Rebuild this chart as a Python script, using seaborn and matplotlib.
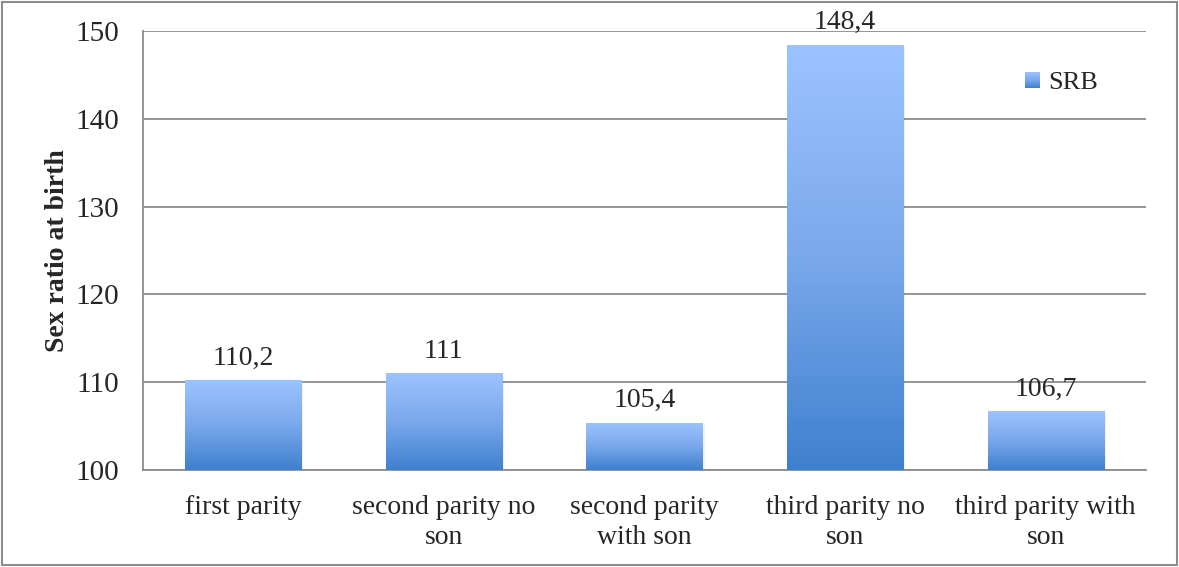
import numpy as np
import pandas as pd
import matplotlib
matplotlib.use("Agg")
import matplotlib.pyplot as plt
from matplotlib.colors import LinearSegmentedColormap
from matplotlib.patches import Patch, Rectangle
from matplotlib.legend_handler import HandlerBase
from matplotlib.image import BboxImage
from matplotlib.transforms import Bbox, TransformedBbox
import seaborn as sns

# Data
categories = ["first parity", "second parity no\nson", "second parity\nwith son",
              "third parity no\nson", "third parity with\nson"]
srb = [110.2, 111, 105.4, 148.4, 106.7]
value_labels = ["110,2", "111", "105,4", "148,4", "106,7"]

df = pd.DataFrame({"category": categories, "SRB": srb})

sns.set_style("white")
plt.rcParams["font.family"] = ["Liberation Serif", "DejaVu Serif"]

cmap = LinearSegmentedColormap.from_list("bar", ["#3f80ce", "#7aa8ec", "#9cc3ff"])
grad = np.linspace(0, 1, 256).reshape(-1, 1)


class GradHandler(HandlerBase):
    def create_artists(self, legend, orig_handle, xdescent, ydescent,
                       width, height, fontsize, trans):
        bb = TransformedBbox(Bbox.from_bounds(-xdescent, -ydescent, width, height), trans)
        img = BboxImage(bb, cmap=cmap, origin="lower")
        img.set_data(grad)
        return [img]


fig = plt.figure(figsize=(11.79, 5.67), dpi=100)
ax = fig.add_axes([143 / 1179, 1 - 470 / 567, 1003 / 1179, 439 / 567])

sns.barplot(data=df, x="category", y="SRB", ax=ax, width=0.58,
            color="#6a9de8", edgecolor="none", zorder=3)
ax.set_ylim(100, 150)
ax.set_yticks(range(100, 151, 10))
ax.set_xlim(-0.5, len(categories) - 0.5)

# gradient fill for each bar
for p in ax.patches:
    x0, y0 = p.get_x(), 100
    w, h = p.get_width(), p.get_y() + p.get_height() - 100
    shadow = Rectangle((x0 + 0.01, y0 - 0.25), w, h, facecolor="#000000",
                       alpha=0.06, edgecolor="none", zorder=2)
    ax.add_patch(shadow)
    im = ax.imshow(grad, cmap=cmap, origin="lower", aspect="auto",
                   extent=(x0, x0 + w, y0, y0 + h), zorder=3)
    im.set_clip_path(p)
    p.set_facecolor("none")

ax.bar_label(ax.containers[0], labels=value_labels, padding=7, fontsize=20)

# grid and spines
ax.yaxis.grid(True, color="#8c8c8c", linewidth=1.3, zorder=0)
ax.set_axisbelow(True)
for s in ["top", "right"]:
    ax.spines[s].set_visible(False)
for s in ["left", "bottom"]:
    ax.spines[s].set_color("#8c8c8c")
    ax.spines[s].set_linewidth(1.3)

ax.tick_params(axis="y", labelsize=21, length=0, pad=17)
ax.tick_params(axis="x", labelsize=20, length=0, pad=18)
for lbl in ax.get_xticklabels():
    lbl.set_linespacing(1.25)
ax.set_xlabel("")
ax.set_ylabel("Sex ratio at birth", fontsize=20, fontweight="bold", labelpad=4)

srb_handle = Patch(label="SRB")
ax.legend(handles=[srb_handle], handler_map={Patch: GradHandler()},
          loc="center left", bbox_to_anchor=(0.879, 0.881), frameon=False,
          fontsize=19, handlelength=0.55, handleheight=0.55, handletextpad=0.35,
          borderpad=0, borderaxespad=0)

# figure border
fig.patches.append(Rectangle((0.002, 0.004), 0.996, 0.992, transform=fig.transFigure,
                             fill=False, edgecolor="#8c8c8c", linewidth=1.5))

fig.savefig("out.png", dpi=100)
